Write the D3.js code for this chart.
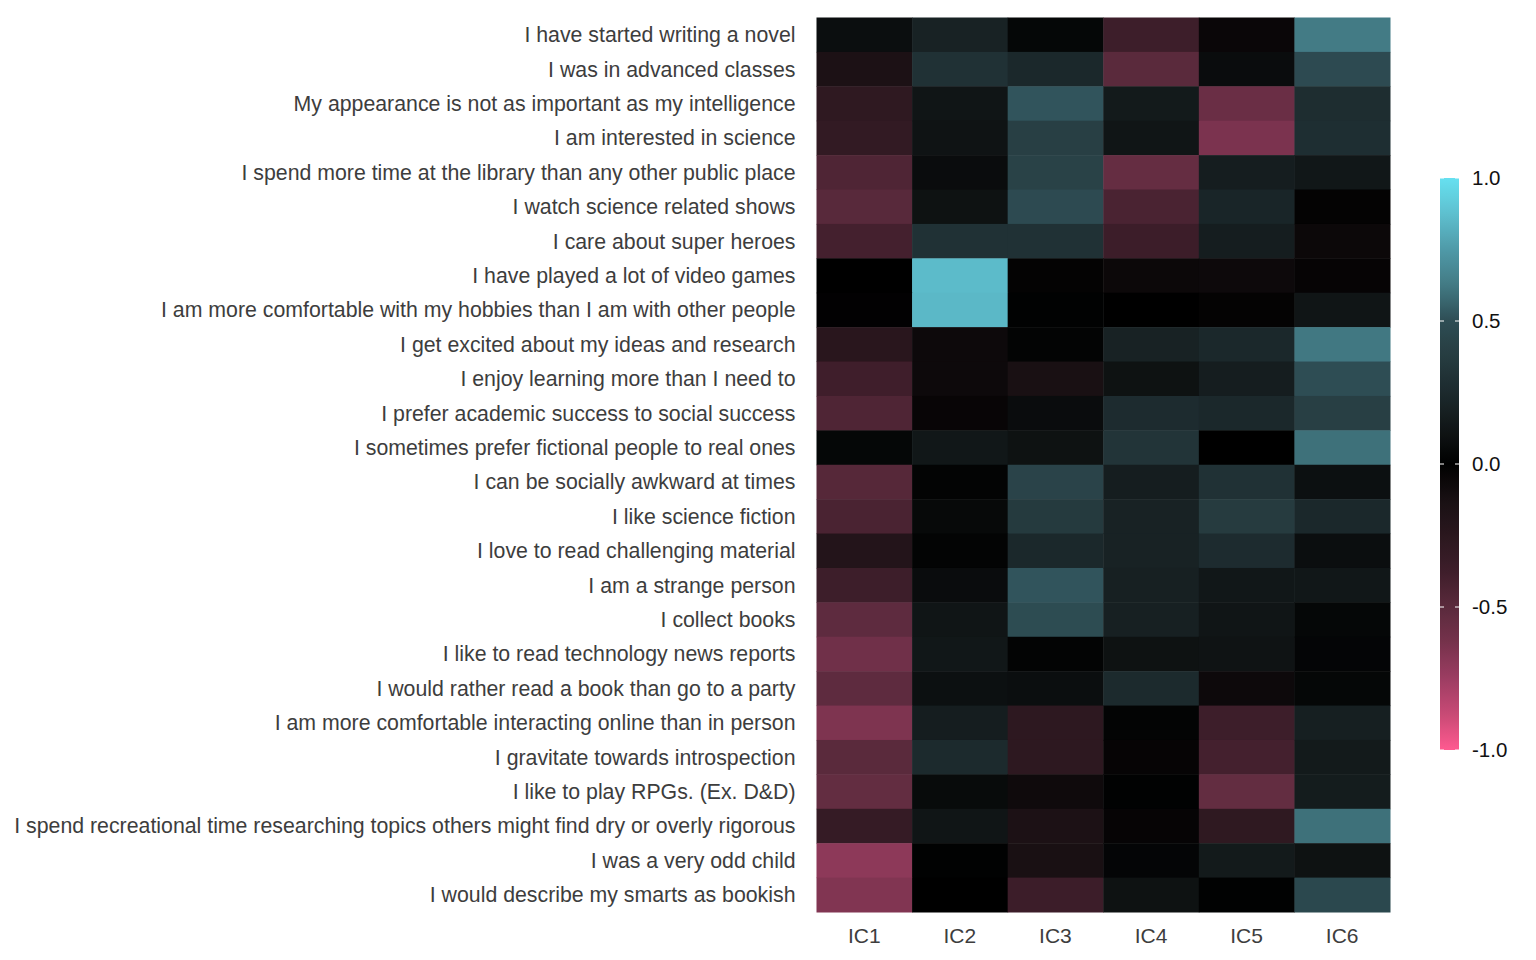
<!DOCTYPE html>
<html>
<head>
<meta charset="utf-8">
<script src="https://cdn.jsdelivr.net/npm/d3@7"></script>
<style>
  body { margin: 0; background: #fff; }
  svg { display: block; font-family: "Liberation Sans", Arial, sans-serif; }
</style>
</head>
<body>
<svg id="chart"></svg>
<script>
const width = 1536;
const height = 960;

// items, top to bottom
const items = [
  "I have started writing a novel",
  "I was in advanced classes",
  "My appearance is not as important as my intelligence",
  "I am interested in science",
  "I spend more time at the library than any other public place",
  "I watch science related shows",
  "I care about super heroes",
  "I have played a lot of video games",
  "I am more comfortable with my hobbies than I am with other people",
  "I get excited about my ideas and research",
  "I enjoy learning more than I need to",
  "I prefer academic success to social success",
  "I sometimes prefer fictional people to real ones",
  "I can be socially awkward at times",
  "I like science fiction",
  "I love to read challenging material",
  "I am a strange person",
  "I collect books",
  "I like to read technology news reports",
  "I would rather read a book than go to a party",
  "I am more comfortable interacting online than in person",
  "I gravitate towards introspection",
  "I like to play RPGs. (Ex. D&D)",
  "I spend recreational time researching topics others might find dry or overly rigorous",
  "I was a very odd child",
  "I would describe my smarts as bookish"
];

const components = ["IC1", "IC2", "IC3", "IC4", "IC5", "IC6"];

// loadings, one array per component, same order as items
const IC1 = [0.08, -0.15, -0.28, -0.30, -0.45, -0.49, -0.40, 0.00, -0.01, -0.24, -0.38, -0.45, 0.04,
             -0.48, -0.43, -0.20, -0.37, -0.52, -0.60, -0.52, -0.65, -0.50, -0.54, -0.32, -0.70, -0.66];
const IC2 = [0.20, 0.30, 0.12, 0.11, 0.07, 0.10, 0.30, 0.86, 0.85, -0.07, -0.07, -0.04, 0.13,
             0.02, 0.05, 0.02, 0.07, 0.12, 0.13, 0.09, 0.17, 0.25, 0.06, 0.12, 0.01, 0.00];
const IC3 = [0.04, 0.24, 0.52, 0.40, 0.42, 0.48, 0.30, -0.02, 0.01, 0.02, -0.13, 0.07, 0.10,
             0.43, 0.36, 0.24, 0.52, 0.49, 0.02, 0.08, -0.27, -0.27, -0.08, -0.15, -0.13, -0.36];
const IC4 = [-0.37, -0.50, 0.15, 0.12, -0.55, -0.43, -0.36, -0.06, 0.00, 0.20, 0.10, 0.26, 0.32,
             0.17, 0.20, 0.20, 0.19, 0.19, 0.10, 0.25, 0.02, -0.03, 0.01, -0.03, 0.03, 0.10];
const IC5 = [-0.05, 0.07, -0.57, -0.64, 0.17, 0.22, 0.17, -0.07, -0.02, 0.24, 0.17, 0.24, 0.00,
             0.30, 0.37, 0.26, 0.13, 0.12, 0.11, -0.07, -0.37, -0.40, -0.54, -0.28, 0.15, 0.01];
const IC6 = [0.63, 0.48, 0.27, 0.28, 0.13, -0.02, -0.06, -0.03, 0.12, 0.62, 0.50, 0.40, 0.60,
             0.09, 0.24, 0.08, 0.13, 0.04, 0.03, 0.04, 0.18, 0.15, 0.16, 0.60, 0.10, 0.46];

const legendTicks = [1.0, 0.5, 0.0, -0.5, -1.0];

const loadings = [IC1, IC2, IC3, IC4, IC5, IC6];
const cells = [];
items.forEach((item, i) => {
  components.forEach((c, j) => {
    cells.push({ item: item, comp: c, value: loadings[j][i] });
  });
});

const svg = d3.select("#chart")
  .attr("width", width)
  .attr("height", height);

const margin = { top: 17.5, left: 816.5, right: 146, bottom: 48 };

const x = d3.scaleBand()
  .domain(components)
  .range([margin.left, width - margin.right]);

const y = d3.scaleBand()
  .domain(items)
  .range([margin.top, height - margin.bottom]);

// colours
const color = d3.scaleLinear()
  .domain([-1, -0.875, -0.75, -0.625, -0.5, -0.375, -0.25, -0.125, 0, 0.125, 0.25, 0.375, 0.5, 0.625, 0.75, 0.875, 1])
  .range(["#ff5a90", "#c84a75", "#9c3d62", "#76324c", "#5a2a3c", "#3e1e2a", "#2a171e", "#181013", "#000000",
          "#111617", "#1c2a2d", "#263c40", "#2e4d54", "#427a84", "#4f9aa8", "#5ec0cf", "#66e0f0"])
  .clamp(true);

svg.append("g")
  .selectAll("rect")
  .data(cells)
  .join("rect")
  .attr("x", d => x(d.comp))
  .attr("y", d => y(d.item))
  .attr("width", x.bandwidth() + 0.5)
  .attr("height", y.bandwidth() + 0.5)
  .attr("fill", d => color(d.value));

// row labels
svg.append("g")
  .selectAll("text")
  .data(items)
  .join("text")
  .attr("x", margin.left - 21)
  .attr("y", d => y(d) + y.bandwidth() / 2)
  .attr("dy", "0.35em")
  .attr("text-anchor", "end")
  .style("font-size", "21.3px")
  .style("fill", "#3d3d3d")
  .text(d => d);

// column labels
svg.append("g")
  .selectAll("text")
  .data(components)
  .join("text")
  .attr("x", d => x(d) + x.bandwidth() / 2)
  .attr("y", height - margin.bottom + 24)
  .attr("dy", "0.35em")
  .attr("text-anchor", "middle")
  .style("font-size", "21px")
  .style("fill", "#3d3d3d")
  .text(d => d);

// colour bar
const barX = 1440, barW = 19;
const ly = d3.scaleLinear().domain([1, -1]).range([178, 750]);

const grad = svg.append("defs").append("linearGradient")
  .attr("id", "bar")
  .attr("x1", 0).attr("y1", 0).attr("x2", 0).attr("y2", 1);
d3.range(0, 101).forEach(k => {
  const v = 1 - 2 * k / 100;
  grad.append("stop")
    .attr("offset", k + "%")
    .attr("stop-color", color(v));
});

svg.append("rect")
  .attr("x", barX)
  .attr("y", ly(1))
  .attr("width", barW)
  .attr("height", ly(-1) - ly(1))
  .attr("fill", "url(#bar)");

const tickG = svg.append("g");
legendTicks.forEach(t => {
  tickG.append("line")
    .attr("x1", barX).attr("x2", barX + 4)
    .attr("y1", ly(t)).attr("y2", ly(t))
    .attr("stroke", "#fff").attr("stroke-width", 1);
  tickG.append("line")
    .attr("x1", barX + barW - 4).attr("x2", barX + barW)
    .attr("y1", ly(t)).attr("y2", ly(t))
    .attr("stroke", "#fff").attr("stroke-width", 1);
  tickG.append("text")
    .attr("x", 1472)
    .attr("y", ly(t))
    .attr("dy", "0.35em")
    .style("font-size", "20.5px")
    .style("fill", "#111")
    .text(t.toFixed(1));
});
</script>
</body>
</html>
